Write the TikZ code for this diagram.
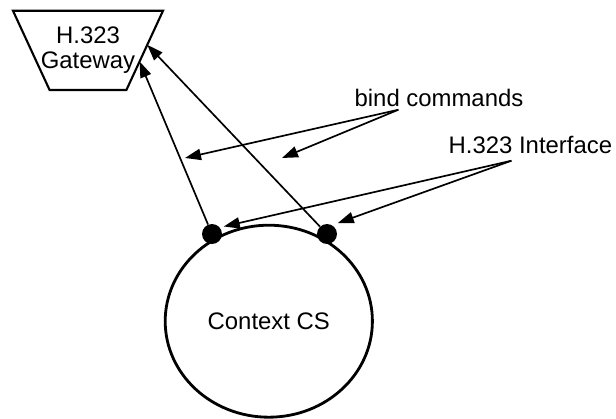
\documentclass[tikz,border=0pt]{standalone}
\usepackage{fontspec}
\setmainfont{Liberation Sans}
\usetikzlibrary{arrows.meta,positioning,shapes.geometric,calc}
\tikzset{
  txt/.style={font=\fontsize{17}{18}\selectfont,align=center,inner sep=0pt},
  gate/.style={line width=1.5pt,line join=miter},
  ctx/.style={txt,draw,ellipse,line width=2pt,minimum width=5.18cm,
    minimum height=4.8cm},
  iface/.style={circle,fill=black,inner sep=0pt,minimum size=0.5cm},
  fl/.style={-{Triangle[length=4mm,width=2.8mm]},line width=1.2pt},
}

\begin{document}
\begin{tikzpicture}
  \useasboundingbox (0,0) rectangle (15.4,-10.475);
  \node[txt] (gw) at (2.2,-1.26) {H.323\\Gateway};
  \coordinate (gtl) at ($(gw)+(-1.875,0.99)$);
  \coordinate (gtr) at ($(gw)+(1.875,0.99)$);
  \coordinate (gbr) at ($(gw)+(0.96,-0.99)$);
  \coordinate (gbl) at ($(gw)+(-0.96,-0.99)$);
  \draw[gate] (gtl) -- (gtr) -- (gbr) -- (gbl) -- cycle;
  \coordinate (ga) at ($(gtr)!0.43!(gbr)$);
  \coordinate (gb) at ($(gtr)!0.64!(gbr)$);
  \node[ctx] (cs) at (6.72,-8.03) {Context CS};
  \node[iface] (pl) at (5.3,-5.85) {};
  \node[iface] (pr) at (8.175,-5.85) {};
  \node[txt] (bind) at (10.975,-2.45) {bind commands};
  \node[txt] (hif) at (13.26,-3.625) {H.323 Interface};
  \coordinate (bc) at ($(bind.base west)+(1.1,-0.08)$);
  \coordinate (hc) at ($(hif.base west)+(1.575,-0.18)$);
  \coordinate (bl) at (4.625,-3.95);
  \coordinate (br) at (7.05,-3.95);
  \draw[fl] (pl) -- (gb);
  \draw[fl] (pr) -- (ga);
  \draw[fl] (bc) -- (bl);
  \draw[fl] (bc) -- (br);
  \draw[fl,shorten >=0.1cm] (hc) -- (pl.40);
  \draw[fl,shorten >=0.15cm] (hc) -- (pr.60);
\end{tikzpicture}
\end{document}
